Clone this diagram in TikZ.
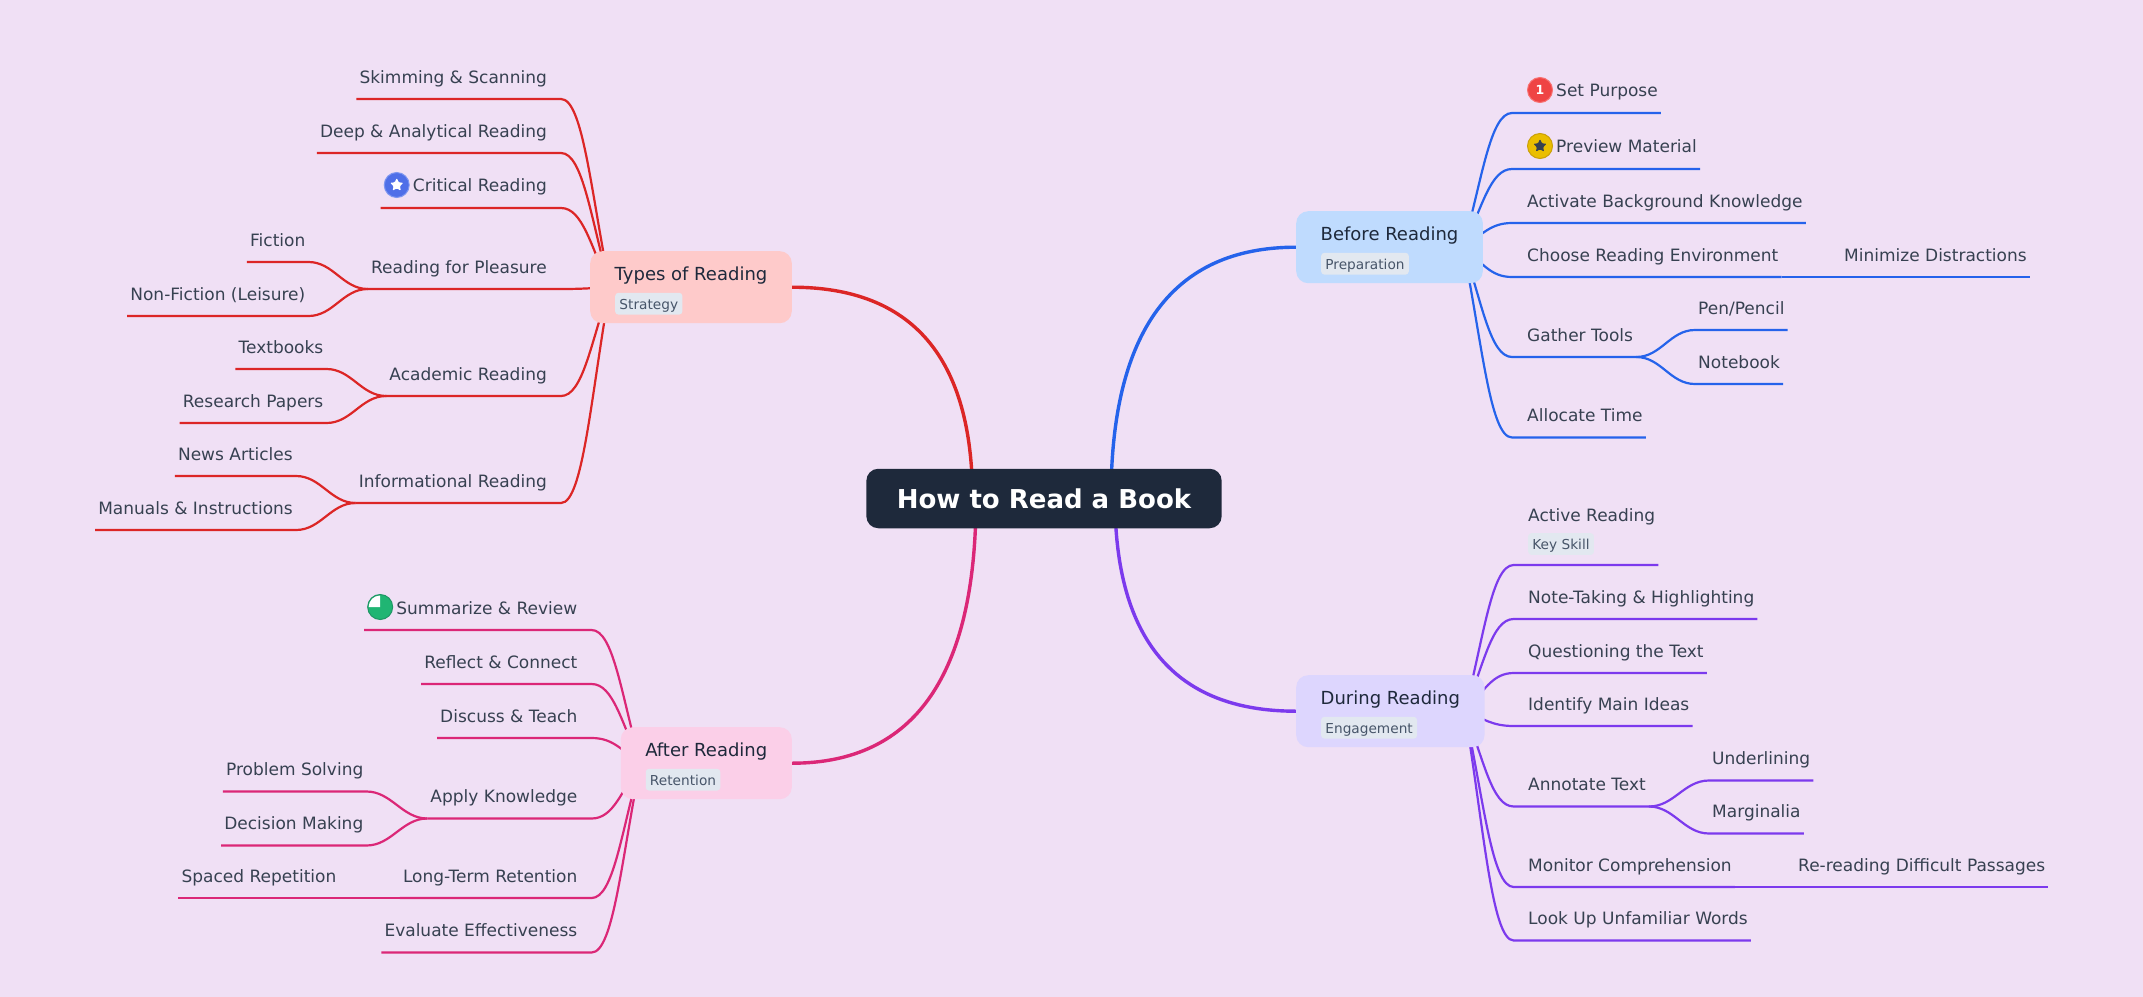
\documentclass[tikz,border=0pt]{standalone}
\usepackage{fontspec}
\setmainfont{DejaVu Sans}
\usetikzlibrary{calc,backgrounds,shapes.geometric}
\definecolor{cbg}{HTML}{F0E0F5}
\definecolor{cblue}{HTML}{2563EB}
\definecolor{cviolet}{HTML}{7C3AED}
\definecolor{cred}{HTML}{DC2626}
\definecolor{cpink}{HTML}{DB2777}
\definecolor{boxblue}{HTML}{BFDBFE}
\definecolor{boxviolet}{HTML}{DDD6FE}
\definecolor{boxred}{HTML}{FECACA}
\definecolor{boxpink}{HTML}{FBCFE8}
\definecolor{cink}{HTML}{1E293B}
\definecolor{cleaf}{HTML}{374151}
\definecolor{ctag}{HTML}{E2E8F0}
\definecolor{ctagtext}{HTML}{475569}
\tikzset{
	rootbox/.style={fill=cink,text=white,rounded corners=12pt,inner xsep=30.5pt,inner ysep=0pt,text height=39.5pt,text depth=20pt,font=\fontsize{26}{30}\selectfont\bfseries},
	topic/.style={rounded corners=12pt,inner xsep=24.5pt,inner ysep=0pt,text height=29pt,text depth=43pt,text=cink,font=\fontsize{18}{22}\selectfont},
	tagbox/.style={anchor=north west,fill=ctag,rounded corners=3pt,inner xsep=4.2pt,inner ysep=2pt,text height=14.3pt,text depth=3.3pt,text=ctagtext,font=\fontsize{13.7}{18}\selectfont},
	leaf/.style={inner xsep=3pt,inner ysep=0pt,text height=15pt,text depth=15.5pt,text=cleaf,font=\fontsize{17}{22}\selectfont},
	mainb/.style={line width=3.4pt},
	sub/.style={line width=2.2pt},
	badge/.style={circle,minimum size=25pt,inner sep=0pt,line width=1pt},
	starm/.style={star,star points=5,star point ratio=2.1,minimum size=14pt,inner sep=0pt,rounded corners=1pt},
}
% room for the badge in front of a label
\newcommand{\iconroom}{\hspace*{29pt}}
\newcommand{\lift}[1]{\raisebox{1pt}{#1}}
\newcommand{\mainline}[2]{%
	\coordinate (c) at (#1 |- #2);
	\draw[mainb] (#1) .. controls ($(#1)!2/3!(c)$) and ($(#2)!2/3!(c)$) .. (#2);}
\newcommand{\subline}[4]{%
	\coordinate (m) at ($(#1)!.5!(#1 |- #2.south)$);
	\coordinate (c) at ($(#1 |- #2.south)+(#3*27,0)$);
	\coordinate (e) at ($(#1 |- #2.south)+(#3*49,0)$);
	\draw[sub] (#1) .. controls ($(m)+(#3*19,0)$) and (c) .. (e) -- (#2.south #4);}
\begin{document}
\begin{tikzpicture}[x=1pt,y=-1pt]
	\useasboundingbox (0,0) rectangle (2143,996);
	% centre and the four topics
	\node[rootbox] (root) at (1044,498.5) {How to Read a Book};
	\node[topic,fill=boxblue,anchor=north west] (before) at (1296,211) {Before Reading};
	\node[topic,fill=boxviolet,anchor=north west] (during) at (1296,675) {During Reading};
	\node[topic,fill=boxred,anchor=north east] (types) at (792,251) {Types of Reading};
	\node[topic,fill=boxpink,anchor=north east] (after) at (792,727) {After Reading};
	\node[tagbox] (tag1) at ($(before.north west)+(25,41.7)$) {Preparation};
	\node[tagbox] (tag2) at ($(during.north west)+(25,41.7)$) {Engagement};
	\node[tagbox] (tag3) at ($(types.north west)+(25,41.7)$) {Strategy};
	\node[tagbox] (tag4) at ($(after.north west)+(25,41.7)$) {Retention};
	% right side labels
	\foreach \n/\x/\y/\lbl in {setp/1524/113/\iconroom\lift{Set Purpose}, prev/1524/169/\iconroom\lift{Preview Material},
		activ/1524/223/Activate Background Knowledge, choose/1524/277/Choose Reading Environment,
		gather/1524/357/Gather Tools, alloc/1524/437.5/Allocate Time, pen/1695/330/{Pen/Pencil},
		notebook/1695/384/Notebook, minim/1841/277/Minimize Distractions,
		note/1525/619/Note-Taking \& Highlighting, quest/1525/673/Questioning the Text,
		ident/1525/726/Identify Main Ideas, annot/1525/806.5/Annotate Text,
		monit/1525/887/Monitor Comprehension, lookup/1525/940.5/Look Up Unfamiliar Words,
		under/1709/780.5/Underlining, margin/1709/833.5/Marginalia, reread/1795/887/Re-reading Difficult Passages} {
		\node[leaf,anchor=south west] (\n) at (\x,\y) {\lbl};
	};
	\node[leaf,anchor=south west,text depth=43pt] (active) at (1525,565) {Active Reading};
	\node[tagbox] (tag5) at ($(active.south west)+(3,-32)$) {Key Skill};
	% left side labels
	\foreach \n/\x/\y/\lbl in {skim/550/99/Skimming \& Scanning, deep/550/153/Deep \& Analytical Reading,
		crit/550/208/\iconroom\lift{Critical Reading}, pleas/550/289/Reading for Pleasure,
		acad/550/396/Academic Reading, info/550/503/Informational Reading,
		fict/308.5/262/Fiction, nonfic/308.5/316/Non-Fiction (Leisure), textb/326.5/369/Textbooks,
		papers/326.5/423/Research Papers, news/296/476/News Articles, manuals/296/530/Manuals \& Instructions,
		summ/580.5/630/\iconroom Summarize \& Review, refl/580.5/684/Reflect \& Connect,
		disc/580.5/738/Discuss \& Teach, apply/580.5/818.5/Apply Knowledge, longt/580.5/898/Long-Term Retention,
		eval/580.5/952.5/Evaluate Effectiveness, prob/366.5/791.5/Problem Solving,
		decis/366.5/845.5/Decision Making, spaced/339.5/898/Spaced Repetition} {
		\node[leaf,anchor=south east] (\n) at (\x,\y) {\lbl};
	};
	% badges
	\node[badge,fill={rgb,255:red,239;green,68;blue,68},draw={rgb,255:red,248;green,113;blue,113},text=white,font=\fontsize{12.5}{14}\selectfont\bfseries] (setp-i) at ($(setp.south west)+(16,-23)$) {1};
	\node[badge,fill={rgb,255:red,234;green,190;blue,0},draw={rgb,255:red,202;green,160;blue,10}] (prev-i) at ($(prev.south west)+(16,-23)$) {};
	\node[starm,fill=cleaf] (prev-s) at (prev-i) {};
	\node[badge,fill={rgb,255:red,79;green,111;blue,232},draw={rgb,255:red,125;green,150;blue,240}] (crit-i) at ($(crit.south west)+(16,-23)$) {};
	\node[starm,fill=white] (crit-s) at (crit-i) {};
	\node[badge,fill={rgb,255:red,32;green,181;blue,115},draw={rgb,255:red,30;green,150;blue,100}] (summ-i) at ($(summ.south west)+(16,-23)$) {};
	\fill[white] (summ-i.center) -- ($(summ-i.center)+(0,-11.5)$) arc (270:180:11.5) -- cycle;
	\begin{scope}[on background layer]
		\fill[cbg] (-2,-2) rectangle (2145,998);
		% branches from the centre
		\coordinate (r-before) at ($(root)+(67,0)$);
		\coordinate (r-during) at ($(root)+(71,0)$);
		\coordinate (r-types) at ($(root)+(-71.5,0)$);
		\coordinate (r-after) at ($(root)+(-68,0)$);
		\coordinate (o-before) at ($(before.east)+(-20,0)$);
		\coordinate (o-during) at ($(during.east)+(-20,0)$);
		\coordinate (o-types) at ($(types.west)+(20,0)$);
		\coordinate (o-after) at ($(after.west)+(20,0)$);
		\begin{scope}[color=cblue]
			\mainline{r-before}{before.west}
			\foreach \n in {setp,prev,activ,choose,gather,alloc} {\subline{o-before}{\n}{1}{east}};
			\foreach \n in {pen,notebook} {
				\draw[sub] (gather.south east) .. controls +(25,0) and +(-25,0) .. (\n.south west) -- (\n.south east);
			};
			\draw[sub] (choose.south east) -- (minim.south east);
		\end{scope}
		\begin{scope}[color=cviolet]
			\mainline{r-during}{during.west}
			\foreach \n in {active,note,quest,ident,annot,monit,lookup} {\subline{o-during}{\n}{1}{east}};
			\foreach \n in {under,margin} {
				\draw[sub] (annot.south east) .. controls +(25,0) and +(-25,0) .. (\n.south west) -- (\n.south east);
			};
			\draw[sub] (monit.south east) -- (reread.south east);
		\end{scope}
		\begin{scope}[color=cred]
			\mainline{r-types}{types.east}
			\foreach \n in {skim,deep,crit,pleas,acad,info} {\subline{o-types}{\n}{-1}{west}};
			\foreach \p/\c in {pleas/fict,pleas/nonfic,acad/textb,acad/papers,info/news,info/manuals} {
				\draw[sub] (\p.south west) .. controls +(-25,0) and +(25,0) .. (\c.south east) -- (\c.south west);
			};
		\end{scope}
		\begin{scope}[color=cpink]
			\mainline{r-after}{after.east}
			\foreach \n in {summ,refl,disc,apply,longt,eval} {\subline{o-after}{\n}{-1}{west}};
			\foreach \n in {prob,decis} {
				\draw[sub] (apply.south west) .. controls +(-25,0) and +(25,0) .. (\n.south east) -- (\n.south west);
			};
			\draw[sub] (longt.south west) -- (spaced.south west);
		\end{scope}
	\end{scope}
\end{tikzpicture}
\end{document}
